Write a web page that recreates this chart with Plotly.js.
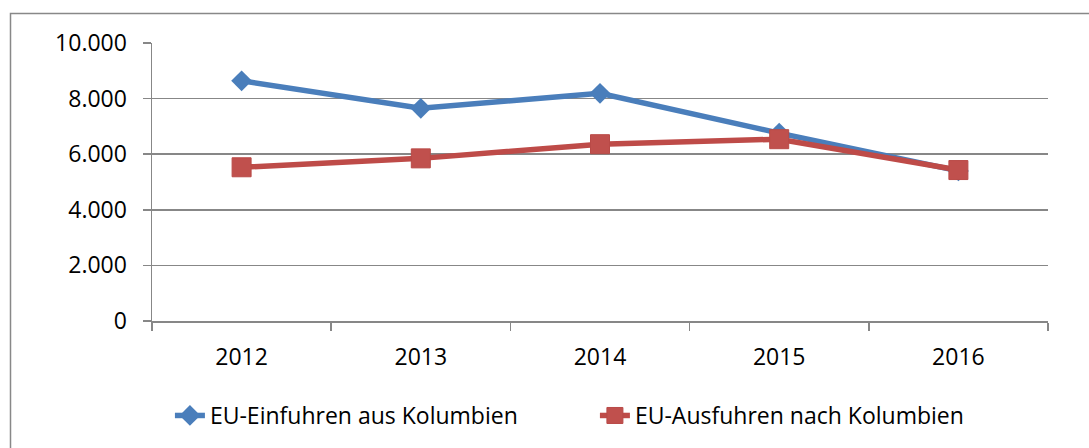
<!DOCTYPE html>
<html>
<head>
<meta charset="utf-8">
<script src="https://cdn.plot.ly/plotly-3.0.1.min.js"></script>
<style>
html,body{margin:0;padding:0;background:#fff;}
#chart{width:1089px;height:448px;}
</style>
</head>
<body>
<div id="chart"></div>
<script>
const years = ["2012", "2013", "2014", "2015", "2016"];
const einfuhren = [8640, 7650, 8190, 6760, 5400];
const ausfuhren = [5530, 5850, 6360, 6540, 5430];
const yTickVals = [0, 2000, 4000, 6000, 8000, 10000];
const yTickText = ["0", "2.000", "4.000", "6.000", "8.000", "10.000"];
const seriesNames = ["EU-Einfuhren aus Kolumbien", "EU-Ausfuhren nach Kolumbien"];

const gridColor = "#878787";
const fontFam = "'Open Sans', Lato, sans-serif";
const fs = 23;

const traces = [
  {
    x: years, y: einfuhren, name: seriesNames[0], type: "scatter", mode: "lines+markers",
    line: {color: "#4a7ebb", width: 5.5},
    marker: {symbol: "diamond", size: 16, color: "#4a7ebb", line: {width: 0}}
  },
  {
    x: years, y: ausfuhren, name: seriesNames[1], type: "scatter", mode: "lines+markers",
    line: {color: "#be4b48", width: 5.5},
    marker: {symbol: "square", size: 19, color: "#c0504d", line: {width: 1, color: "#b94a47"}}
  }
];

const layout = {
  width: 1089, height: 448,
  margin: {l: 152, r: 41, t: 43, b: 127, autoexpand: false},
  paper_bgcolor: "#fff", plot_bgcolor: "#fff",
  font: {family: fontFam, size: fs, color: "#000"},
  showlegend: true,
  xaxis: {
    type: "category", tickson: "boundaries", range: [-0.5, years.length - 0.5],
    showgrid: false, showline: true, linecolor: gridColor, linewidth: 1.5,
    ticks: "outside", ticklen: 8, tickcolor: gridColor, tickwidth: 1.5,
    tickfont: {family: fontFam, size: fs, color: "#000"},
    ticklabelstandoff: 15,
    zeroline: false, fixedrange: true, automargin: false
  },
  yaxis: {
    range: [0, 10000], tickvals: yTickVals, ticktext: yTickText,
    showgrid: true, gridcolor: gridColor, gridwidth: 1.5,
    showline: true, linecolor: gridColor, linewidth: 1.5,
    ticks: "outside", ticklen: 8, tickcolor: gridColor, tickwidth: 1.5,
    tickfont: {family: fontFam, size: fs, color: "#000"},
    ticklabelstandoff: 11,
    zeroline: false, fixedrange: true, automargin: false
  },
  legend: {
    orientation: "h", x: 0.02, xanchor: "left", y: -0.34, yanchor: "middle",
    font: {family: fontFam, size: fs, color: "#000"},
    entrywidth: 380, entrywidthmode: "pixels",
    bgcolor: "rgba(0,0,0,0)"
  },
  shapes: [
    {type: "rect", xref: "paper", yref: "paper",
     x0: (10.5 - 152) / 896, x1: 1.2, y0: -0.6, y1: 1 + (43 - 13.5) / 278,
     line: {color: "#888888", width: 1.5}, fillcolor: "rgba(0,0,0,0)", layer: "below"}
  ]
};

Plotly.newPlot("chart", traces, layout, {displayModeBar: false, staticPlot: true});
</script>
</body>
</html>
